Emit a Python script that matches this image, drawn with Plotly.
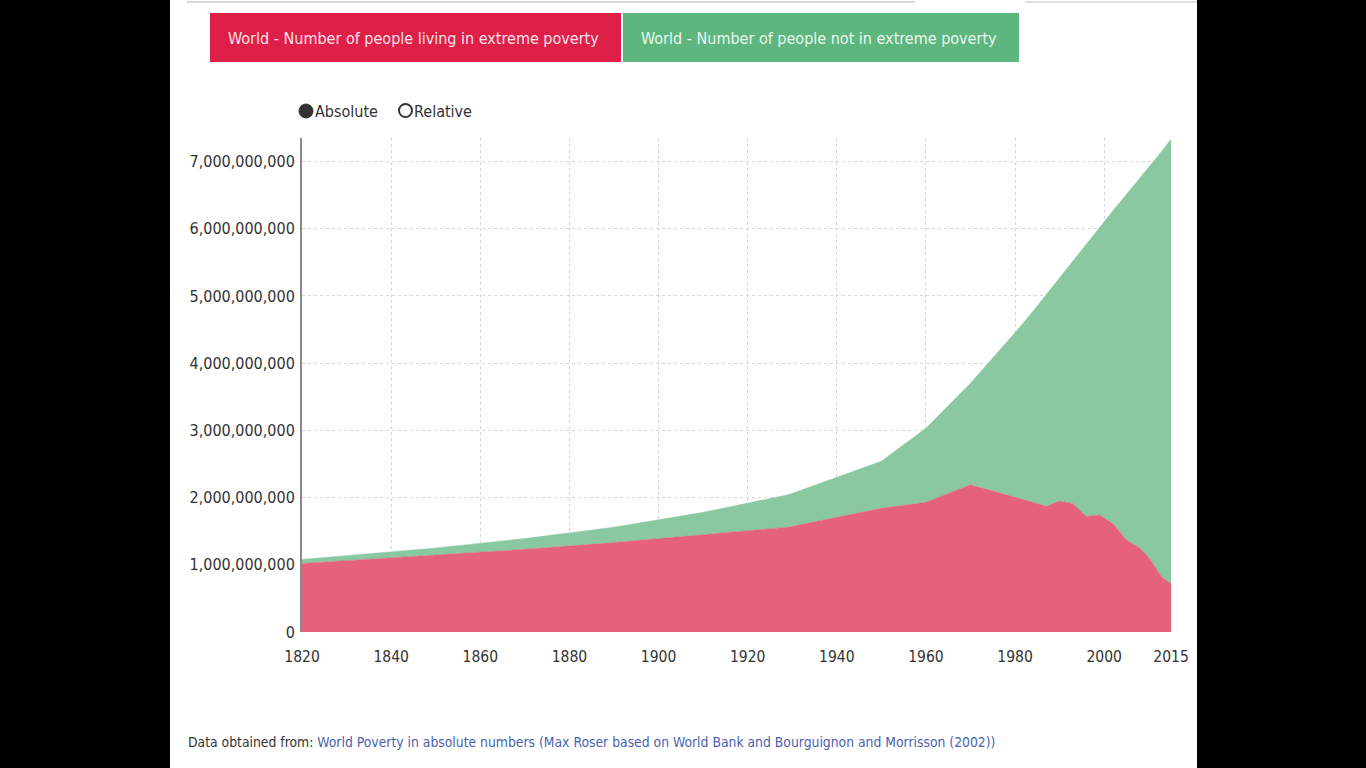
import plotly.graph_objects as go

# ---- data ----
years = [1820, 1850, 1870, 1890, 1910, 1929, 1950, 1960, 1970, 1980, 1981, 1984,
         1987, 1990, 1993, 1996, 1999, 2002, 2005, 2008, 2010, 2011, 2012, 2013, 2015]
poverty = [1.02e9, 1.14e9, 1.23e9, 1.33e9, 1.45e9, 1.56e9, 1.84e9, 1.93e9, 2.19e9, 2.01e9,
           1.99e9, 1.93e9, 1.87e9, 1.95e9, 1.91e9, 1.72e9, 1.74e9, 1.61e9, 1.37e9, 1.25e9,
           1.11e9, 1.00e9, 0.91e9, 0.81e9, 0.72e9]
total_pop = [1.08e9, 1.25e9, 1.39e9, 1.56e9, 1.78e9, 2.04e9, 2.54e9, 3.03e9, 3.70e9, 4.45e9,
             4.53e9, 4.77e9, 5.02e9, 5.28e9, 5.53e9, 5.78e9, 6.03e9, 6.27e9, 6.51e9, 6.75e9,
             6.92e9, 7.00e9, 7.08e9, 7.16e9, 7.33e9]
not_poverty = [t - p for t, p in zip(total_pop, poverty)]

x_ticks = [1820, 1840, 1860, 1880, 1900, 1920, 1940, 1960, 1980, 2000, 2015]
y_ticks = [0, 1e9, 2e9, 3e9, 4e9, 5e9, 6e9, 7e9]

series_names = ["World - Number of people living in extreme poverty",
                "World - Number of people not in extreme poverty"]
source_label = "Data obtained from:"
source_link = "World Poverty in absolute numbers (Max Roser based on World Bank and Bourguignon and Morrisson (2002))"

FONT = "DejaVu Sans Condensed, Liberation Sans, Arial, sans-serif"

W, H = 1366, 768
L, R, T, B = 302, 1171, 138, 632


def px(xp):
    return (xp - L) / (R - L)


def py(yp):
    return (B - yp) / (B - T)


fig = go.Figure()
fig.add_trace(go.Scatter(x=years, y=poverty, name=series_names[0], stackgroup="one",
                         mode="lines", line=dict(width=0.5, color="rgb(229,98,122)"),
                         fillcolor="rgb(229,98,122)"))
fig.add_trace(go.Scatter(x=years, y=not_poverty, name=series_names[1], stackgroup="one",
                         mode="lines", line=dict(width=0.5, color="rgb(137,200,161)"),
                         fillcolor="rgb(137,200,161)"))

shapes = [
    # black side bars
    dict(type="rect", xref="paper", yref="paper", x0=px(0), x1=px(170), y0=py(H), y1=py(0),
         fillcolor="black", line=dict(width=0), layer="above"),
    dict(type="rect", xref="paper", yref="paper", x0=px(1197), x1=px(W), y0=py(H), y1=py(0),
         fillcolor="black", line=dict(width=0), layer="above"),
    # top faint tab lines
    dict(type="line", xref="paper", yref="paper", x0=px(187), x1=px(915), y0=py(2), y1=py(2),
         line=dict(color="#d8d8d8", width=2)),
    dict(type="line", xref="paper", yref="paper", x0=px(1025), x1=px(1197), y0=py(2), y1=py(2),
         line=dict(color="#e0e0e0", width=2)),
    # legend buttons
    dict(type="rect", xref="paper", yref="paper", x0=px(210), x1=px(621), y0=py(62), y1=py(13),
         fillcolor="#de1f48", line=dict(width=0)),
    dict(type="rect", xref="paper", yref="paper", x0=px(623), x1=px(1019), y0=py(62), y1=py(13),
         fillcolor="#5db67e", line=dict(width=0)),
    # radio buttons
    dict(type="circle", xref="paper", yref="paper", x0=px(299), x1=px(313), y0=py(118), y1=py(104),
         fillcolor="#333333", line=dict(color="#333333", width=1)),
    dict(type="circle", xref="paper", yref="paper", x0=px(399), x1=px(412), y0=py(117), y1=py(104),
         fillcolor="white", line=dict(color="#333333", width=2)),
]

annotations = [
    dict(text=series_names[0], xref="paper", yref="paper", x=px(226), y=py(38),
         xanchor="left", yanchor="middle", showarrow=False,
         font=dict(family=FONT, size=16, color="#fbe3e8")),
    dict(text=series_names[1], xref="paper", yref="paper", x=px(639), y=py(38),
         xanchor="left", yanchor="middle", showarrow=False,
         font=dict(family=FONT, size=16, color="#eaf6ee")),
    dict(text="Absolute", xref="paper", yref="paper", x=px(313), y=py(111),
         xanchor="left", yanchor="middle", showarrow=False,
         font=dict(family=FONT, size=16, color="#333333")),
    dict(text="Relative", xref="paper", yref="paper", x=px(412), y=py(111),
         xanchor="left", yanchor="middle", showarrow=False,
         font=dict(family=FONT, size=16, color="#333333")),
    dict(text=source_label + " <span style='color:#4a62b0'>" + source_link + "</span>",
         xref="paper", yref="paper", x=px(186), y=py(742),
         xanchor="left", yanchor="middle", showarrow=False,
         font=dict(family=FONT, size=13.8, color="#333333")),
]

fig.update_layout(
    width=W, height=H,
    margin=dict(l=L, r=W - R, t=T, b=H - B, pad=0),
    paper_bgcolor="white", plot_bgcolor="white",
    showlegend=False,
    font=dict(family=FONT, color="#333333"),
    shapes=shapes, annotations=annotations,
    xaxis=dict(range=[1820, 2015], tickvals=x_ticks, ticktext=[str(v) for v in x_ticks],
               showline=False, zeroline=False, showgrid=True, gridcolor="#d6d6d6",
               griddash="dot", gridwidth=1, ticks="", ticklabelstandoff=13,
               tickfont=dict(family=FONT, size=15.5, color="#333333"), fixedrange=True),
    yaxis=dict(range=[0, 7.35e9], tickvals=y_ticks, tickformat=",d",
               showline=True, linecolor="#8a8a8a", linewidth=2, zeroline=False,
               showgrid=True, gridcolor="#d6d6d6", griddash="dot", gridwidth=1, ticks="",
               ticklabelstandoff=2,
               tickfont=dict(family=FONT, size=16, color="#333333"), fixedrange=True),
)

fig.write_html("out.html", config={"displayModeBar": False})
